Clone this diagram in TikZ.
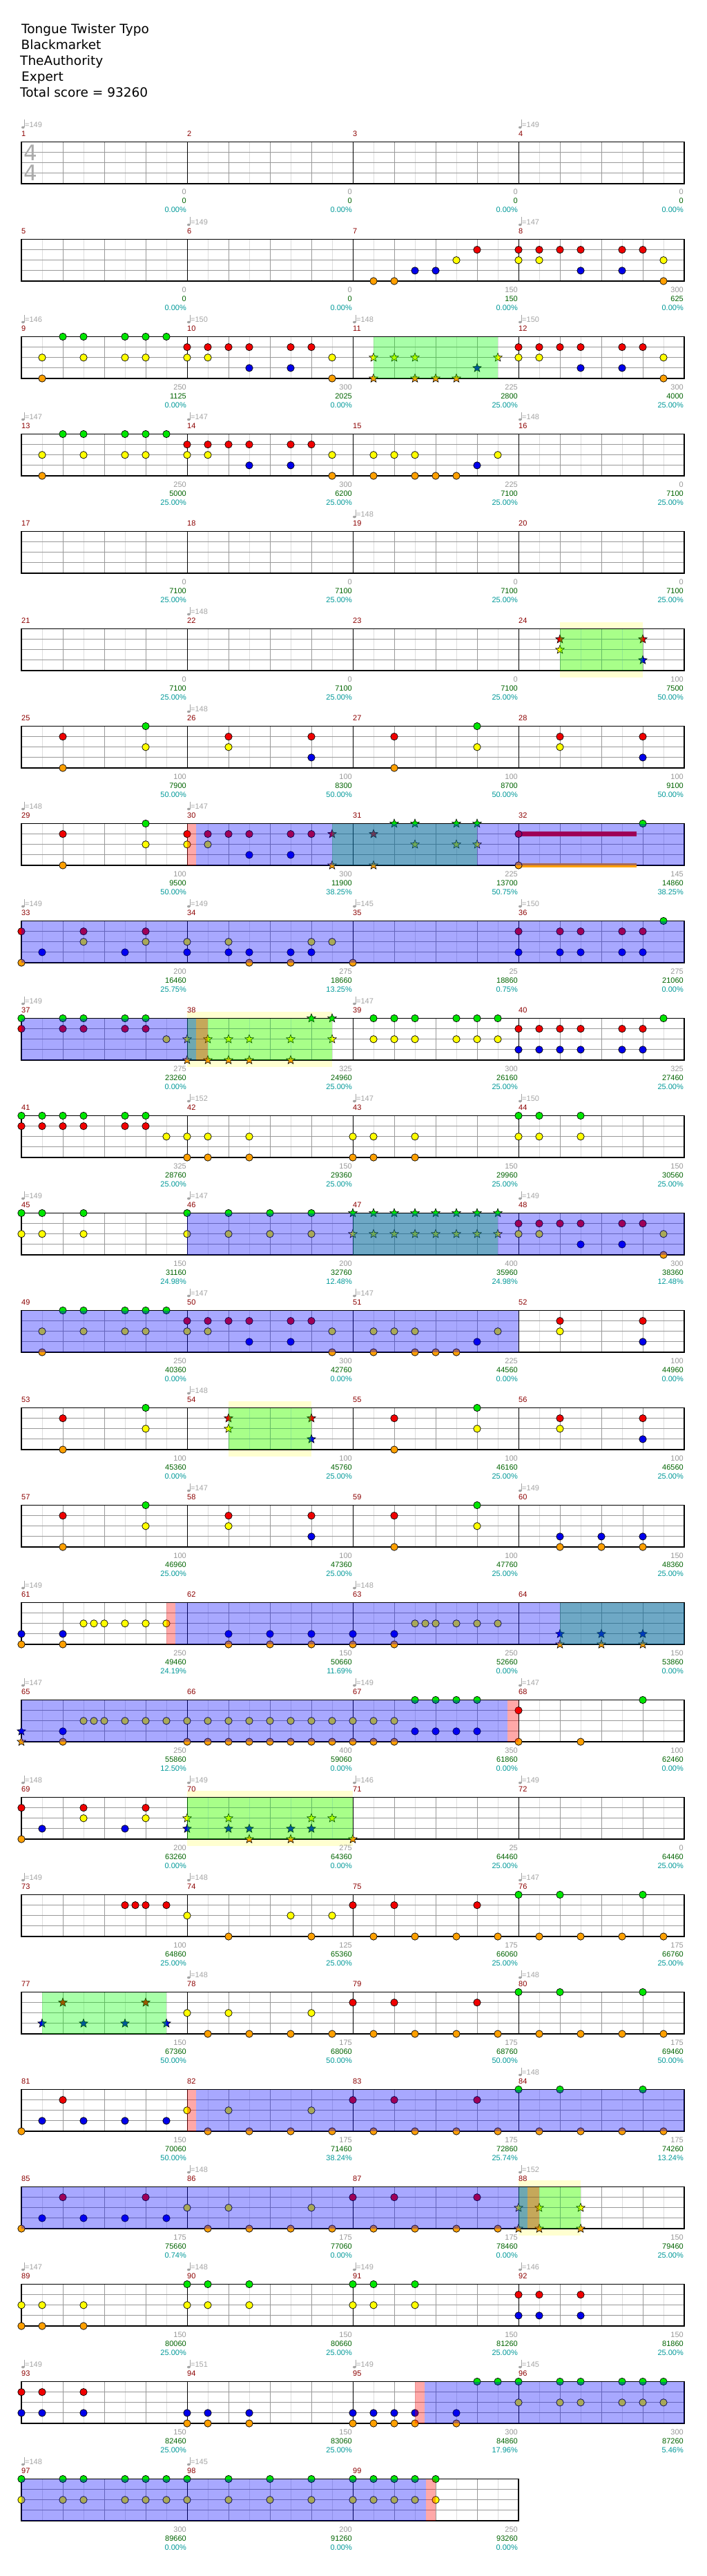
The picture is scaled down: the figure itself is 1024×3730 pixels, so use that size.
\documentclass[tikz,border=0pt]{standalone}
\usepackage{fontspec}
\setmainfont{Liberation Sans}
\newfontfamily\titlefont{DejaVu Sans}
\usetikzlibrary{shapes.geometric}
\definecolor{lane0}{RGB}{0,230,0}
\definecolor{lane1}{RGB}{240,0,0}
\definecolor{lane2}{RGB}{255,255,0}
\definecolor{lane3}{RGB}{0,0,235}
\definecolor{lane4}{RGB}{255,160,0}
\definecolor{gridlight}{RGB}{221,221,221}
\definecolor{gridmid}{RGB}{153,153,153}
\definecolor{labgray}{RGB}{153,153,153}
\definecolor{tempogray}{RGB}{165,165,165}
\definecolor{mnumred}{RGB}{140,0,0}
\definecolor{scoregreen}{RGB}{0,100,0}
\definecolor{pctteal}{RGB}{0,153,153}
\definecolor{tsgray}{RGB}{170,170,170}
\definecolor{spgreen}{RGB}{0,255,0}
\definecolor{spblue}{RGB}{0,0,255}
\definecolor{spred}{RGB}{255,0,0}
\definecolor{phraseyellow}{RGB}{255,255,208}

\newcommand\Staff[3]{%
  \pgfmathsetmacro\rowT{205.5+141*#1}%
  \pgfmathsetmacro\rowB{\rowT+60.5}%
  \pgfmathsetmacro\rowR{31+240*#3}%
  \foreach \m in {1,...,#3}{%
    \pgfmathsetmacro\xo{31+240*(\m-1)}%
    \foreach \d in {30,90,150,210}{\draw[gridlight,line width=1pt] (\xo+\d,\rowT) -- (\xo+\d,\rowB);}%
  }%
  \foreach \k in {1,2,3}{\draw[gridmid,line width=1pt] (31,\rowT+15*\k) -- (\rowR,\rowT+15*\k);}%
  \foreach \m in {1,...,#3}{%
    \pgfmathsetmacro\xo{31+240*(\m-1)}%
    \foreach \d in {60,120,180}{\draw[gridmid,line width=1pt] (\xo+\d,\rowT) -- (\xo+\d,\rowB);}%
    \pgfmathtruncatemacro\mn{#2+\m-1}%
    \node[lab,anchor=base west,mnumred] (mn\mn) at (\xo,\rowT-8) {\mn};%
  }%
  \foreach \m in {2,...,#3}{%
    \pgfmathsetmacro\xo{31+240*(\m-1)}%
    \draw[black,line width=1pt] (\xo,\rowT) -- (\xo,\rowB);%
  }%
  \draw[black,line width=1.3pt] (31,\rowT) rectangle (\rowR,\rowB);%
}
\newcommand\Nt[3]{%
  \pgfmathsetmacro\nx{31+30*#2}%
  \pgfmathsetmacro\ny{205.5+141*#1+15.125*#3}%
  \filldraw[fill=lane#3,draw=black,line width=0.7pt] (\nx,\ny) circle[radius=5.2pt];}
\newcommand\St[3]{%
  \pgfmathsetmacro\nx{31+30*#2}%
  \pgfmathsetmacro\ny{205.5+141*#1+15.125*#3}%
  \node[starnote,fill=lane#3] (st-#1-#2-#3) at (\nx,\ny) {};}
\newcommand\Nts[2]{\foreach \u/\l in {#2}{\Nt{#1}{\u}{\l}}}
\newcommand\Sts[2]{\foreach \u/\l in {#2}{\St{#1}{\u}{\l}}}
\newcommand\Sus[4]{%
  \pgfmathsetmacro\nx{31+30*#2}%
  \pgfmathsetmacro\ny{205.5+141*#1+15.125*#3}%
  \fill[lane#3] (\nx,\ny-3.2) rectangle (#4,\ny+3.2);}
\newcommand\Ov[4]{%
  \pgfmathsetmacro\oT{205.5+141*#1}%
  \fill[#2,opacity=0.34] (#3,\oT) rectangle (#4,\oT+60.5);}
\newcommand\Grn[3]{%
  \pgfmathsetmacro\ga{31+30*#2}\pgfmathsetmacro\gb{31+30*#3}%
  \Ov{#1}{spgreen}{\ga}{\gb}}
\newcommand\Yel[3]{%
  \pgfmathsetmacro\ga{31+30*#2}\pgfmathsetmacro\gb{31+30*#3}%
  \pgfmathsetmacro\oT{205.5+141*#1}%
  \fill[phraseyellow] (\ga,\oT-10) rectangle (\gb,\oT+70.5);}
\newcommand\Labs[2]{%
  \pgfmathsetmacro\lB{205.5+141*#1+60.5}%
  \foreach \g/\s/\p [count=\k] in {#2}{%
    \pgfmathsetmacro\lx{31+240*\k-1}%
    \node[lab,labgray] (lg-#1-\k) at (\lx,\lB+16) {\g};%
    \node[lab,scoregreen] (ls-#1-\k) at (\lx,\lB+29) {\s};%
    \node[lab,pctteal] (lp-#1-\k) at (\lx,\lB+42) {\p\%};}}
\newcommand\Tmps[2]{%
  \pgfmathsetmacro\tT{205.5+141*#1}%
  \foreach \k/\bpm in {#2}{%
    \pgfmathsetmacro\tx{31+240*(\k-1)}%
    \fill[tempogray] (\tx+2.3,\tT-21) ellipse[x radius=2.3pt,y radius=1.8pt];%
    \draw[tempogray,line width=0.8pt] (\tx+4.2,\tT-21) -- (\tx+4.2,\tT-32);%
    \node[lab,anchor=base west,tempogray] (tp-#1-\k) at (\tx+5,\tT-21) {=\bpm};}}

\begin{document}
\begin{tikzpicture}[x=1pt,y=-1pt,
  lab/.style={anchor=base east,inner sep=0pt,font=\fontsize{11}{11}\selectfont},
  starnote/.style={star,star points=5,star point ratio=2.3,minimum size=13pt,inner sep=0pt,draw=black,line width=0.6pt},
  ttl/.style={anchor=base west,inner sep=0pt,font=\titlefont\fontsize{18.5}{22}\selectfont}]
\fill[white] (0,0) rectangle (1024,3730);
\useasboundingbox (0,0) rectangle (1024,3730);

\node[ttl] (t1) at (31,49) {Tongue Twister Typo};
\node[ttl] (t2) at (30.5,72) {Blackmarket};
\node[ttl] (t3) at (29,95) {TheAuthority};
\node[ttl] (t4) at (31,118) {Expert};
\node[ttl] (t5) at (29,141) {Total score = 93260};

% row 0
\Staff{0}{1}{4}
\node[inner sep=0pt,tsgray,font=\titlefont\fontsize{31}{31}\selectfont] (ts1) at (44.5,220.8) {4};
\node[inner sep=0pt,tsgray,font=\titlefont\fontsize{31}{31}\selectfont] (ts2) at (44.5,250.7) {4};
\Tmps{0}{1/149,4/149}
\Labs{0}{0/0/0.00,0/0/0.00,0/0/0.00,0/0/0.00}

% row 1
\Staff{1}{5}{4}
\Tmps{1}{2/149,4/147}
\Nts{1}{17/4,18/4,19/3,20/3,21/2,22/1,24/1,24/2,25/1,25/2,26/1,27/1,27/3,29/1,29/3,30/1,31/2,31/4}
\Labs{1}{0/0/0.00,0/0/0.00,150/150/0.00,300/625/0.00}

% row 2
\Staff{2}{9}{4}
\Tmps{2}{1/146,2/150,3/148,4/150}
\Nts{2}{1/2,1/4,2/0,3/0,3/2,5/0,5/2,6/0,6/2,7/0,8/1,8/2,9/1,9/2,10/1,11/1,11/3,13/1,13/3,14/1,15/2,15/4,24/1,24/2,25/1,25/2,26/1,27/1,27/3,29/1,29/3,30/1,31/2,31/4}
\Sts{2}{17/2,17/4,18/2,19/2,19/4,20/4,21/4,22/3,23/2}
\Grn{2}{17}{23}
\Labs{2}{250/1125/0.00,300/2025/0.00,225/2800/25.00,300/4000/25.00}

% row 3
\Staff{3}{13}{4}
\Tmps{3}{1/147,2/147,4/148}
\Nts{3}{1/2,1/4,2/0,3/0,3/2,5/0,5/2,6/0,6/2,7/0,8/1,8/2,9/1,9/2,10/1,11/1,11/3,13/1,13/3,14/1,15/2,15/4,17/2,17/4,18/2,19/2,19/4,20/4,21/4,22/3,23/2}
\Labs{3}{250/5000/25.00,300/6200/25.00,225/7100/25.00,0/7100/25.00}

% row 4
\Staff{4}{17}{4}
\Tmps{4}{3/148}
\Labs{4}{0/7100/25.00,0/7100/25.00,0/7100/25.00,0/7100/25.00}

% row 5
\Yel{5}{26}{30}
\Staff{5}{21}{4}
\Tmps{5}{2/148}
\Sts{5}{26/1,26/2,30/1,30/3}
\Grn{5}{26}{30}
\Labs{5}{0/7100/25.00,0/7100/25.00,0/7100/25.00,100/7500/50.00}

% row 6
\Staff{6}{25}{4}
\Tmps{6}{2/148}
\Nts{6}{2/1,2/4,6/0,6/2,10/1,10/2,14/1,14/3,18/1,18/4,22/0,22/2,26/1,26/2,30/1,30/3}
\Labs{6}{100/7900/50.00,100/8300/50.00,100/8700/50.00,100/9100/50.00}

% row 7
\Staff{7}{29}{4}
\Tmps{7}{1/148,2/147}
\Sus{7}{24}{1}{922}
\Sus{7}{24}{4}{922}
\Nts{7}{2/1,2/4,6/0,6/2,8/1,8/2,9/1,9/2,10/1,11/1,11/3,13/1,13/3,14/1,24/1,24/4,30/0}
\Sts{7}{15/1,15/4,17/1,17/4,18/0,19/0,21/0,22/0,19/2,21/2,22/2}
\Grn{7}{15}{22}
\Ov{7}{spblue}{284}{991}
\Ov{7}{spred}{271}{284}
\Labs{7}{100/9500/50.00,300/11900/38.25,225/13700/50.75,145/14860/38.25}

% row 8
\Staff{8}{33}{4}
\Tmps{8}{1/149,2/149,3/145,4/150}
\Nts{8}{0/1,0/4,1/3,3/1,3/2,5/3,6/1,6/2,8/2,8/3,10/2,10/3,11/3,11/4,13/3,13/4,14/2,14/3,15/2,16/4,24/1,24/3,26/1,26/3,27/1,27/3,29/1,29/3,30/1,30/3,31/0}
\Ov{8}{spblue}{31}{991}
\Labs{8}{200/16460/25.75,275/18660/13.25,25/18860/0.75,275/21060/0.00}

% row 9
\Yel{9}{8}{15}
\Staff{9}{37}{4}
\Tmps{9}{1/149,3/147}
\Nts{9}{0/0,0/1,2/0,2/1,3/0,3/1,5/0,5/1,6/0,6/1,7/2,17/0,17/2,18/0,18/2,19/0,19/2,21/0,21/2,22/0,22/2,23/0,23/2,24/1,24/3,25/1,25/3,26/1,26/3,27/1,27/3,29/1,29/3,30/1,30/3,31/0}
\Sts{9}{8/2,8/4,9/2,9/4,10/2,10/4,11/2,11/4,13/2,13/4,14/0,15/0,15/2}
\Grn{9}{8}{15}
\Ov{9}{spblue}{31}{284}
\Ov{9}{spred}{284}{301}
\Labs{9}{275/23260/0.00,325/24960/25.00,300/26160/25.00,325/27460/25.00}

% row 10
\Staff{10}{41}{4}
\Tmps{10}{2/152,3/147,4/150}
\Nts{10}{0/0,0/1,1/0,1/1,2/0,2/1,3/0,3/1,5/0,5/1,6/0,6/1,7/2,8/2,8/4,9/2,9/4,11/2,11/4,16/2,16/4,17/2,17/4,19/2,19/4,24/0,24/2,25/0,25/2,27/0,27/2}
\Labs{10}{325/28760/25.00,150/29360/25.00,150/29960/25.00,150/30560/25.00}

% row 11
\Staff{11}{45}{4}
\Tmps{11}{1/149,2/147,4/149}
\Nts{11}{0/0,0/2,1/0,1/2,3/0,3/2,8/0,8/2,10/0,10/2,12/0,12/2,14/0,14/2,24/1,24/2,25/1,25/2,26/1,27/1,27/3,29/1,29/3,30/1,31/2,31/4}
\Sts{11}{16/0,16/2,17/0,17/2,18/0,18/2,19/0,19/2,20/0,20/2,21/0,21/2,22/0,22/2,23/0,23/2}
\Grn{11}{16}{23}
\Ov{11}{spblue}{271}{991}
\Labs{11}{150/31160/24.98,200/32760/12.48,400/35960/24.98,300/38360/12.48}

% row 12
\Staff{12}{49}{4}
\Tmps{12}{2/147,3/147}
\Nts{12}{1/2,1/4,2/0,3/0,3/2,5/0,5/2,6/0,6/2,7/0,8/1,8/2,9/1,9/2,10/1,11/1,11/3,13/1,13/3,14/1,15/2,15/4,17/2,17/4,18/2,19/2,19/4,20/4,21/4,22/3,23/2,26/1,26/2,30/1,30/3}
\Ov{12}{spblue}{31}{751}
\Labs{12}{250/40360/0.00,300/42760/0.00,225/44560/0.00,100/44960/0.00}

% row 13
\Yel{13}{10}{14}
\Staff{13}{53}{4}
\Tmps{13}{2/148}
\Nts{13}{2/1,2/4,6/0,6/2,18/1,18/4,22/0,22/2,26/1,26/2,30/1,30/3}
\Sts{13}{10/1,10/2,14/1,14/3}
\Grn{13}{10}{14}
\Labs{13}{100/45360/0.00,100/45760/25.00,100/46160/25.00,100/46560/25.00}

% row 14
\Staff{14}{57}{4}
\Tmps{14}{2/147,4/149}
\Nts{14}{2/1,2/4,6/0,6/2,10/1,10/2,14/1,14/3,18/1,18/4,22/0,22/2,26/3,26/4,28/3,28/4,30/3,30/4}
\Labs{14}{100/46960/25.00,100/47360/25.00,100/47760/25.00,150/48360/25.00}

% row 15
\Staff{15}{61}{4}
\Tmps{15}{1/149,3/148}
\Nts{15}{0/3,0/4,2/3,2/4,3/2,3.5/2,4/2,5/2,6/2,7/2,10/3,10/4,12/3,12/4,14/3,14/4,16/3,16/4,18/3,18/4,19/2,19.5/2,20/2,21/2,22/2,23/2}
\Sts{15}{26/3,26/4,28/3,28/4,30/3,30/4}
\Grn{15}{26}{32}
\Ov{15}{spblue}{254}{991}
\Ov{15}{spred}{241}{254}
\Labs{15}{250/49460/24.19,150/50660/11.69,250/52660/0.00,150/53860/0.00}

% row 16
\Staff{16}{65}{4}
\Tmps{16}{1/147,3/149,4/147}
\Sts{16}{0/3,0/4}
\Nts{16}{2/3,2/4,3/2,3.5/2,4/2,5/2,6/2,7/2,8/2,9/2,10/2,11/2,12/2,13/2,14/2,15/2,16/2,17/2,18/2,8/4,9/4,10/4,11/4,12/4,13/4,14/4,15/4,16/4,17/4,18/4,19/0,19/3,20/0,20/3,21/0,21/3,22/0,22/3,24/1,24/4,27/4,30/0}
\Ov{16}{spblue}{31}{735}
\Ov{16}{spred}{735}{751}
\Labs{16}{250/55860/12.50,400/59060/0.00,350/61860/0.00,100/62460/0.00}

% row 17
\Yel{17}{8}{16}
\Staff{17}{69}{4}
\Tmps{17}{1/148,2/149,3/146,4/149}
\Nts{17}{0/1,0/4,1/3,3/1,3/2,5/3,6/1,6/2}
\Sts{17}{8/2,8/3,10/2,10/3,11/3,11/4,13/3,13/4,14/2,14/3,15/2,16/4}
\Grn{17}{8}{16}
\Labs{17}{200/63260/0.00,275/64360/0.00,25/64460/25.00,0/64460/25.00}

% row 18
\Staff{18}{73}{4}
\Tmps{18}{1/149,2/148,4/147}
\Nts{18}{5/1,5.5/1,6/1,7/1,8/2,10/4,13/2,14/4,15/2,16/1,17/4,18/1,19/4,21/4,22/1,23/4,24/0,25/4,26/0,27/4,29/4,30/0,31/4}
\Labs{18}{100/64860/25.00,125/65360/25.00,175/66060/25.00,175/66760/25.00}

% row 19
\Staff{19}{77}{4}
\Tmps{19}{2/148,4/148}
\Sts{19}{1/3,2/1,3/3,5/3,6/1,7/3}
\Nts{19}{8/2,9/4,10/2,11/4,13/4,14/2,15/4,16/1,17/4,18/1,19/4,21/4,22/1,23/4,24/0,25/4,26/0,27/4,29/4,30/0,31/4}
\Grn{19}{1}{7}
\Labs{19}{150/67360/50.00,175/68060/50.00,175/68760/50.00,175/69460/50.00}

% row 20
\Staff{20}{81}{4}
\Tmps{20}{4/148}
\Nts{20}{0/4,1/3,2/1,3/3,5/3,7/3,8/2,9/4,10/2,11/4,13/4,14/2,15/4,16/1,17/4,18/1,19/4,21/4,22/1,23/4,24/0,25/4,26/0,27/4,29/4,30/0,31/4}
\Ov{20}{spblue}{284}{991}
\Ov{20}{spred}{271}{284}
\Labs{20}{150/70060/50.00,175/71460/38.24,175/72860/25.74,175/74260/13.24}

% row 21
\Yel{21}{24}{27}
\Staff{21}{85}{4}
\Tmps{21}{2/148,4/152}
\Nts{21}{0/4,1/3,2/1,3/3,5/3,6/1,7/3,8/2,9/4,10/2,11/4,13/4,14/2,15/4,16/1,17/4,18/1,19/4,21/4,22/1,23/4}
\Sts{21}{24/2,24/4,25/2,25/4,27/2,27/4}
\Grn{21}{24}{27}
\Ov{21}{spblue}{31}{764}
\Ov{21}{spred}{764}{781}
\Labs{21}{175/75660/0.74,175/77060/0.00,175/78460/0.00,150/79460/25.00}

% row 22
\Staff{22}{89}{4}
\Tmps{22}{1/147,2/148,3/149,4/146}
\Nts{22}{0/2,0/4,1/2,1/4,3/2,3/4,8/0,8/2,9/0,9/2,11/0,11/2,16/0,16/2,17/0,17/2,19/0,19/2,24/1,24/3,25/1,25/3,27/1,27/3}
\Labs{22}{150/80060/25.00,150/80660/25.00,150/81260/25.00,150/81860/25.00}

% row 23
\Staff{23}{93}{4}
\Tmps{23}{1/149,2/151,3/149,4/145}
\Nts{23}{0/1,0/3,1/1,1/3,3/1,3/3,8/3,8/4,9/3,9/4,11/3,11/4,16/3,16/4,17/3,17/4,18/3,18/4,19/3,19/4,21/3,21/4,22/0,23/0,24/0,24/2,26/0,26/2,27/0,27/2,29/0,29/2,30/0,30/2,31/0,31/2}
\Ov{23}{spblue}{615}{991}
\Ov{23}{spred}{601}{615}
\Labs{23}{150/82460/25.00,150/83060/25.00,300/84860/17.96,300/87260/5.46}

% row 24
\Staff{24}{97}{3}
\Tmps{24}{1/148,2/145}
\Nts{24}{0/0,0/2,2/0,2/2,3/0,3/2,5/0,5/2,6/0,6/2,7/0,7/2,8/0,8/2,10/0,10/2,12/0,12/2,14/0,14/2,16/0,16/2,17/0,17/2,18/0,18/2,19/0,19/2,20/0,20/2}
\Ov{24}{spblue}{31}{617}
\Ov{24}{spred}{617}{631}
\Labs{24}{300/89660/0.00,200/91260/0.00,250/93260/0.00}
\end{tikzpicture}
\end{document}
